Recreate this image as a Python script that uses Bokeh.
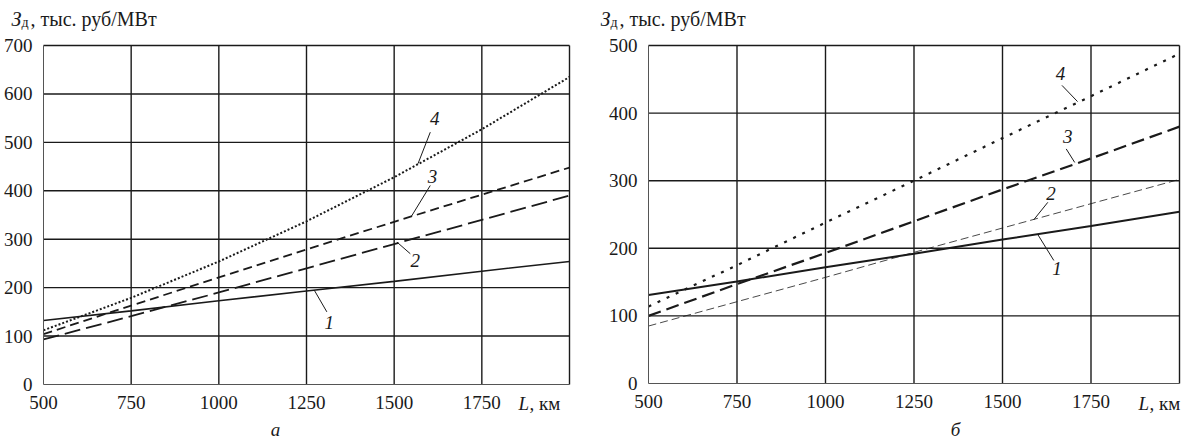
from bokeh.plotting import figure
from bokeh.layouts import row
from bokeh.models import FixedTicker, Label, Range1d
from bokeh.core.properties import value
from bokeh.embed import file_html
from bokeh.resources import INLINE

# Line length, km
L = [500, 750, 1000, 1250, 1500, 1750, 2000]

# Panel "а": specific costs, thousand roubles per MW
a1 = [132, 152, 173, 193, 213, 234, 254]
a2 = [93, 141, 190, 240, 290, 340, 390]
a3 = [104, 163, 221, 279, 336, 392, 448]
a4 = [112, 179, 254, 337, 428, 527, 635]

# Panel "б"
b1 = [131, 151, 172, 192, 213, 233, 254]
b2 = [85, 121, 157, 194, 230, 266, 302]
b3 = [100, 147, 193, 240, 287, 333, 380]
b4 = [114, 175, 238, 300, 363, 425, 488]

x_ticks = [500, 750, 1000, 1250, 1500, 1750, 2000]
ya_ticks = [0, 100, 200, 300, 400, 500, 600, 700]
yb_ticks = [0, 100, 200, 300, 400, 500]

curve_names = ["1", "2", "3", "4"]
# curve number callouts: text anchor and leader line (curve point -> text)
a_lab_x = [1315, 1560, 1609, 1616]
a_lab_y = [128, 256, 429, 549]
a_lead_x0 = [1272, 1508, 1549, 1568]
a_lead_y0 = [195, 294, 347, 456]
a_lead_x1 = [1308, 1546, 1603, 1603]
a_lead_y1 = [150, 270, 411, 521]

b_lab_x = [1654, 1637, 1684, 1664]
b_lab_y = [170, 281, 365, 458]
b_lead_x0 = [1599, 1588, 1704, 1712]
b_lead_y0 = [221, 242, 327, 417]
b_lead_x1 = [1645, 1628, 1680, 1668]
b_lead_y1 = [182, 268, 347, 441]

SERIF = "Liberation Serif"
INK = "#1a1a1a"
H = 442


def panel(width, ymax, yticks, left, right, top, bottom):
    """Figure whose frame fills the canvas; the plot box spans left..right, top..bottom px."""
    kx = (x_ticks[-1] - x_ticks[0]) / (right - left)
    ky = ymax / (bottom - top)
    p = figure(width=width, height=H, output_backend="svg", toolbar_location=None,
               x_range=Range1d(x_ticks[0] - left * kx, x_ticks[-1] + (width - right) * kx),
               y_range=Range1d(-(H - bottom) * ky, ymax + top * ky),
               min_border_left=0, min_border_right=0, min_border_top=0, min_border_bottom=0,
               background_fill_color="white", border_fill_color="white")
    p.outline_line_color = None
    p.grid.visible = False
    p.xaxis.fixed_location = 0
    p.yaxis.fixed_location = x_ticks[0]
    p.xaxis.bounds = (x_ticks[0], x_ticks[-1])
    p.yaxis.bounds = (0, ymax)
    p.xaxis.ticker = FixedTicker(ticks=x_ticks)
    p.yaxis.ticker = FixedTicker(ticks=yticks)
    p.xaxis.major_label_overrides = {2000: ""}
    for ax in (p.xaxis, p.yaxis):
        ax.major_tick_line_color = None
        ax.minor_tick_line_color = None
        ax.axis_line_color = "#555555"
        ax.axis_line_width = 1
        ax.major_label_text_font = SERIF
        ax.major_label_text_font_size = "19px"
        ax.major_label_text_color = INK
    p.yaxis.major_label_standoff = 5
    p.xaxis.major_label_standoff = 5
    # grid lines (the ones at the top value and at 2000 close the box)
    vx = x_ticks[1:]
    p.segment(x0=vx, y0=[0] * len(vx), x1=vx, y1=[ymax] * len(vx),
              line_color=INK, line_width=1.4)
    hy = yticks[1:]
    p.segment(x0=[x_ticks[0]] * len(hy), y0=hy, x1=[x_ticks[-1]] * len(hy), y1=hy,
              line_color=INK, line_width=1.4)
    return p


def txt(p, sx, base_y, text, size="19px", style="normal", align="left"):
    # sx: px from the figure's left edge, base_y: px from its top
    p.add_layout(Label(x=sx, y=H - base_y, x_units="screen", y_units="screen",
                       text=text, text_align=align, text_baseline="alphabetic",
                       text_font=SERIF, text_font_style=style, text_font_size=size,
                       text_color=INK))


def titles(p, tx, lx, letter, letter_x):
    txt(p, tx, 18, "З", size="20px", style="italic")
    txt(p, tx + 10, 22, "д", size="14px")
    txt(p, tx + 19, 18, ", тыс. руб/МВт", size="20px")
    txt(p, lx, 403, "L", style="italic")
    txt(p, lx + 11, 403, ", км")
    txt(p, letter_x, 429, letter, style="italic", align="center")


def callouts(p, lx, ly, x0, y0, x1, y1):
    p.segment(x0=x0, y0=y0, x1=x1, y1=y1, line_color=INK, line_width=1)
    p.text(x=lx, y=ly, text=curve_names, text_font=value(SERIF),
           text_font_style="italic", text_font_size="19px", text_color=INK,
           text_align="center", text_baseline="middle")


# Panel "а"
pa = panel(600, 700, ya_ticks, 43, 569, 45, 384)
pa.line(L, a1, line_color=INK, line_width=1.6)
pa.line(L, a2, line_color=INK, line_width=1.8, line_dash="16 6")
pa.line(L, a3, line_color=INK, line_width=1.8, line_dash="9 5")
pa.line(L, a4, line_color=INK, line_width=2.0, line_dash="2 2")
callouts(pa, a_lab_x, a_lab_y, a_lead_x0, a_lead_y0, a_lead_x1, a_lead_y1)
titles(pa, 11, 518, "а", 275)

# Panel "б"
pb = panel(587, 500, yb_ticks, 48, 579, 45, 383)
pb.line(L, b1, line_color=INK, line_width=2.0)
pb.line(L, b2, line_color=INK, line_width=0.8, line_dash="8 4")
pb.line(L, b3, line_color=INK, line_width=2.2, line_dash="13 6")
pb.line(L, b4, line_color=INK, line_width=2.2, line_dash="3 7")
callouts(pb, b_lab_x, b_lab_y, b_lead_x0, b_lead_y0, b_lead_x1, b_lead_y1)
titles(pb, 0, 538, "б", 355)

layout = row(pa, pb)
open("out.html", "w").write(file_html(layout, INLINE))
